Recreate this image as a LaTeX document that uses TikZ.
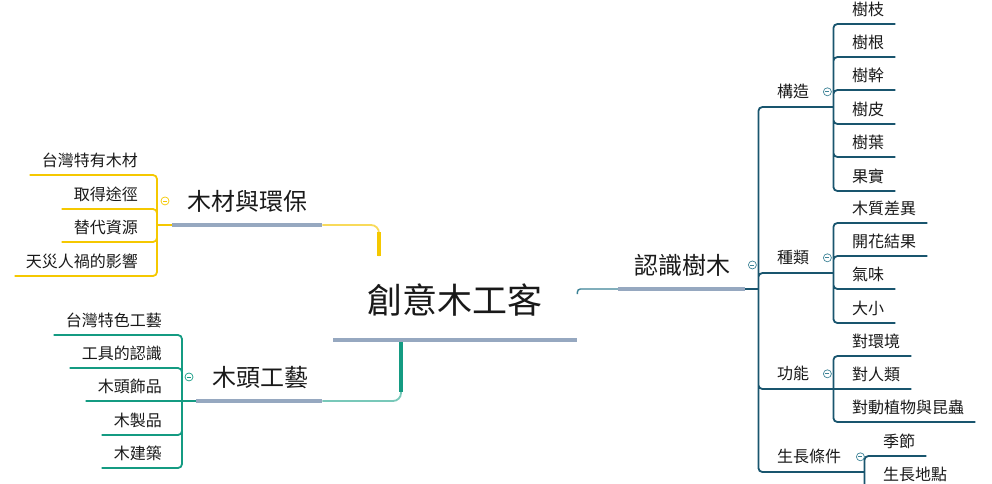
\documentclass[tikz,border=0pt]{standalone}
\usepackage{fontspec}
\setmainfont{Noto Sans CJK TC}

\definecolor{ylw}{RGB}{245,200,0}
\definecolor{ylwl}{RGB}{248,218,90}
\definecolor{grn}{RGB}{20,155,130}
\definecolor{grnl}{RGB}{120,200,185}
\definecolor{dk}{RGB}{25,85,110}
\definecolor{dkl}{RGB}{60,130,150}
\definecolor{hl}{RGB}{150,168,192}
\definecolor{txt}{RGB}{25,25,25}

\tikzset{
  every node/.style={inner xsep=0pt, text=txt},
  rootnode/.style={anchor=south west, font=\fontsize{35}{35}\selectfont, text height=29pt, text depth=2.5pt, inner ysep=24pt},
  topic/.style={anchor=south west, font=\fontsize{24}{24}\selectfont, text height=20pt, text depth=1.7pt, inner ysep=13pt},
  lvltwo/.style={anchor=south west, font=\fontsize{16}{16}\selectfont, text height=13.3pt, text depth=1.1pt, inner ysep=7.8pt},
  leafR/.style={anchor=south west, font=\fontsize{16}{16}\selectfont, text height=13.3pt, text depth=1.1pt, inner ysep=7pt},
  leafL/.style={leafR, anchor=south east},
  fold/.style={circle, draw=#1, line width=0.7pt, minimum size=8pt, inner sep=0pt,
    path picture={\draw[#1, line width=0.7pt] ([xshift=-2pt]path picture bounding box.center) -- ([xshift=2pt]path picture bounding box.center);}},
  hlroot/.style={draw=hl, line width=4.5pt},
  hltopic/.style={draw=hl, line width=3.5pt},
  ylwbr/.style={draw=ylw, line width=1.8pt, rounded corners=4pt},
  grnbr/.style={draw=grn, line width=1.8pt, rounded corners=4pt},
  dkbr/.style={draw=dk, line width=1.8pt, rounded corners=4pt}
}

\begin{document}
\begin{tikzpicture}[x=1pt, y=-1pt]
\useasboundingbox (0,0) rectangle (992,483);

% centre and main topics
\node (root) [rootnode] at (367,340) {創意木工客};
\node (mc) [topic] at (187,225) {木材與環保};
\node (mt) [topic] at (212,401) {木頭工藝};
\node (rs) [topic] at (634,289) {認識樹木};

% left, yellow
\node (a1) [leafL] at (138,175) {台灣特有木材};
\node (a2) [leafL] at (138,209) {取得途徑};
\node (a3) [leafL] at (138,242) {替代資源};
\node (a4) [leafL] at (138,276) {天災人禍的影響};

% left, green
\node (b1) [leafL] at (162,335) {台灣特色工藝};
\node (b2) [leafL] at (162,368) {工具的認識};
\node (b3) [leafL] at (162,401) {木頭飾品};
\node (b4) [leafL] at (162,435) {木製品};
\node (b5) [leafL] at (162,468) {木建築};

% right side
\node (gz) [lvltwo] at (777,107) {構造};
\node (zl) [lvltwo] at (777,273) {種類};
\node (gn) [lvltwo] at (777,389) {功能};
\node (sz) [lvltwo] at (777,472) {生長條件};

\node (zhi) [leafR] at (852,24) {樹枝};
\node (gen) [leafR] at (852,57) {樹根};
\node (gan) [leafR] at (852,90) {樹幹};
\node (pi) [leafR] at (852,124) {樹皮};
\node (ye) [leafR] at (852,157) {樹葉};
\node (guo) [leafR] at (852,191) {果實};

\node (mz) [leafR] at (852,223) {木質差異};
\node (kh) [leafR] at (852,256) {開花結果};
\node (qw) [leafR] at (852,289) {氣味};
\node (dx) [leafR] at (852,323) {大小};

\node (hj) [leafR] at (852,356) {對環境};
\node (rl) [leafR] at (852,389) {對人類};
\node (dz) [leafR] at (852,422) {對動植物與昆蟲};

\node (jj) [leafR] at (883,456) {季節};
\node (dd) [leafR] at (883,489) {生長地點};

% joints
\coordinate (jmc) at ([xshift=-30pt]mc.south west);
\coordinate (jmt) at ([xshift=-30pt]mt.south west);
\coordinate (jR) at ([xshift=28pt]rs.south east);
\coordinate (jgz) at ([xshift=24pt]gz.south east);
\coordinate (jzl) at ([xshift=24pt]zl.south east);
\coordinate (jgn) at ([xshift=24pt]gn.south east);
\coordinate (jsz) at ([xshift=23pt]sz.south east);

% from the centre
\draw[ylwbr, draw=ylwl, rounded corners=8pt] ([xshift=12pt,yshift=84pt]root.south west) |- ([xshift=15pt]mc.south east);
\draw[draw=ylw, line width=4.5pt] ([xshift=12pt,yshift=84pt]root.south west) -- ([xshift=12pt,yshift=108pt]root.south west);
\draw[grnbr, draw=grnl, rounded corners=8pt] ([xshift=34pt]root.south west) |- ([xshift=14pt]mt.south east);
\draw[draw=grn, line width=4.5pt] ([xshift=34pt]root.south west) -- ([xshift=34pt,yshift=-52pt]root.south west);
\draw[dkbr, draw=dkl, line width=1.4pt, rounded corners=3pt] ([xshift=35pt,yshift=46pt]root.south east) |- ([xshift=-16pt]rs.south west);

% underlines
\draw[hlroot] ([xshift=-34pt]root.south west) -- ([xshift=35pt]root.south east);
\draw[hltopic] ([xshift=-15pt]mc.south west) -- ([xshift=15pt]mc.south east);
\draw[hltopic] ([xshift=-16pt]mt.south west) -- ([xshift=14pt]mt.south east);
\draw[hltopic] ([xshift=-16pt]rs.south west) -- ([xshift=15pt]rs.south east);

% branches
\draw[ylwbr] ([xshift=-15pt]mc.south west) -- (jmc);
\draw[ylwbr] (jmc) |- ([xshift=-12pt]a1.south west) (jmc) |- ([xshift=-12pt]a2.south west)
  (jmc) |- ([xshift=-12pt]a3.south west) (jmc) |- ([xshift=-11pt]a4.south west);

\draw[grnbr] ([xshift=-16pt]mt.south west) -- (jmt);
\draw[grnbr] (jmt) |- ([xshift=-12pt]b1.south west) (jmt) |- ([xshift=-12pt]b2.south west)
  (jmt) -- ([xshift=-12pt]b3.south west) (jmt) |- ([xshift=-12pt]b4.south west)
  (jmt) |- ([xshift=-12pt]b5.south west);

\draw[dkbr] ([xshift=15pt]rs.south east) -- (jR);
\draw[dkbr] (jR) |- (jgz) (jR) |- (jzl) (jR) |- (jgn) (jR) |- (jsz);

\draw[dkbr] (jgz) |- ([xshift=11pt]zhi.south east) (jgz) |- ([xshift=11pt]gen.south east)
  (jgz) |- ([xshift=11pt]gan.south east) (jgz) |- ([xshift=11pt]pi.south east)
  (jgz) |- ([xshift=11pt]ye.south east) (jgz) |- ([xshift=11pt]guo.south east);
\draw[dkbr] (jzl) |- ([xshift=11pt]mz.south east) (jzl) |- ([xshift=11pt]kh.south east)
  (jzl) |- ([xshift=11pt]qw.south east) (jzl) |- ([xshift=11pt]dx.south east);
\draw[dkbr] (jgn) |- ([xshift=11pt]hj.south east) (jgn) -- ([xshift=11pt]rl.south east)
  (jgn) |- ([xshift=11pt]dz.south east);
\draw[dkbr] (jsz) |- ([xshift=11pt]jj.south east) (jsz) |- ([xshift=11pt]dd.south east);

% fold marks
\node (f1) [fold=ylw] at ([xshift=-22pt]mc.west) {};
\node (f2) [fold=grn] at ([xshift=-23pt]mt.west) {};
\node (f3) [fold=dkl] at ([xshift=22pt]rs.east) {};
\node (f4) [fold=dkl] at ([xshift=18pt]gz.east) {};
\node (f5) [fold=dkl] at ([xshift=18pt]zl.east) {};
\node (f6) [fold=dkl] at ([xshift=18pt]gn.east) {};
\node (f7) [fold=dkl] at ([xshift=19pt]sz.east) {};
\end{tikzpicture}
\end{document}
